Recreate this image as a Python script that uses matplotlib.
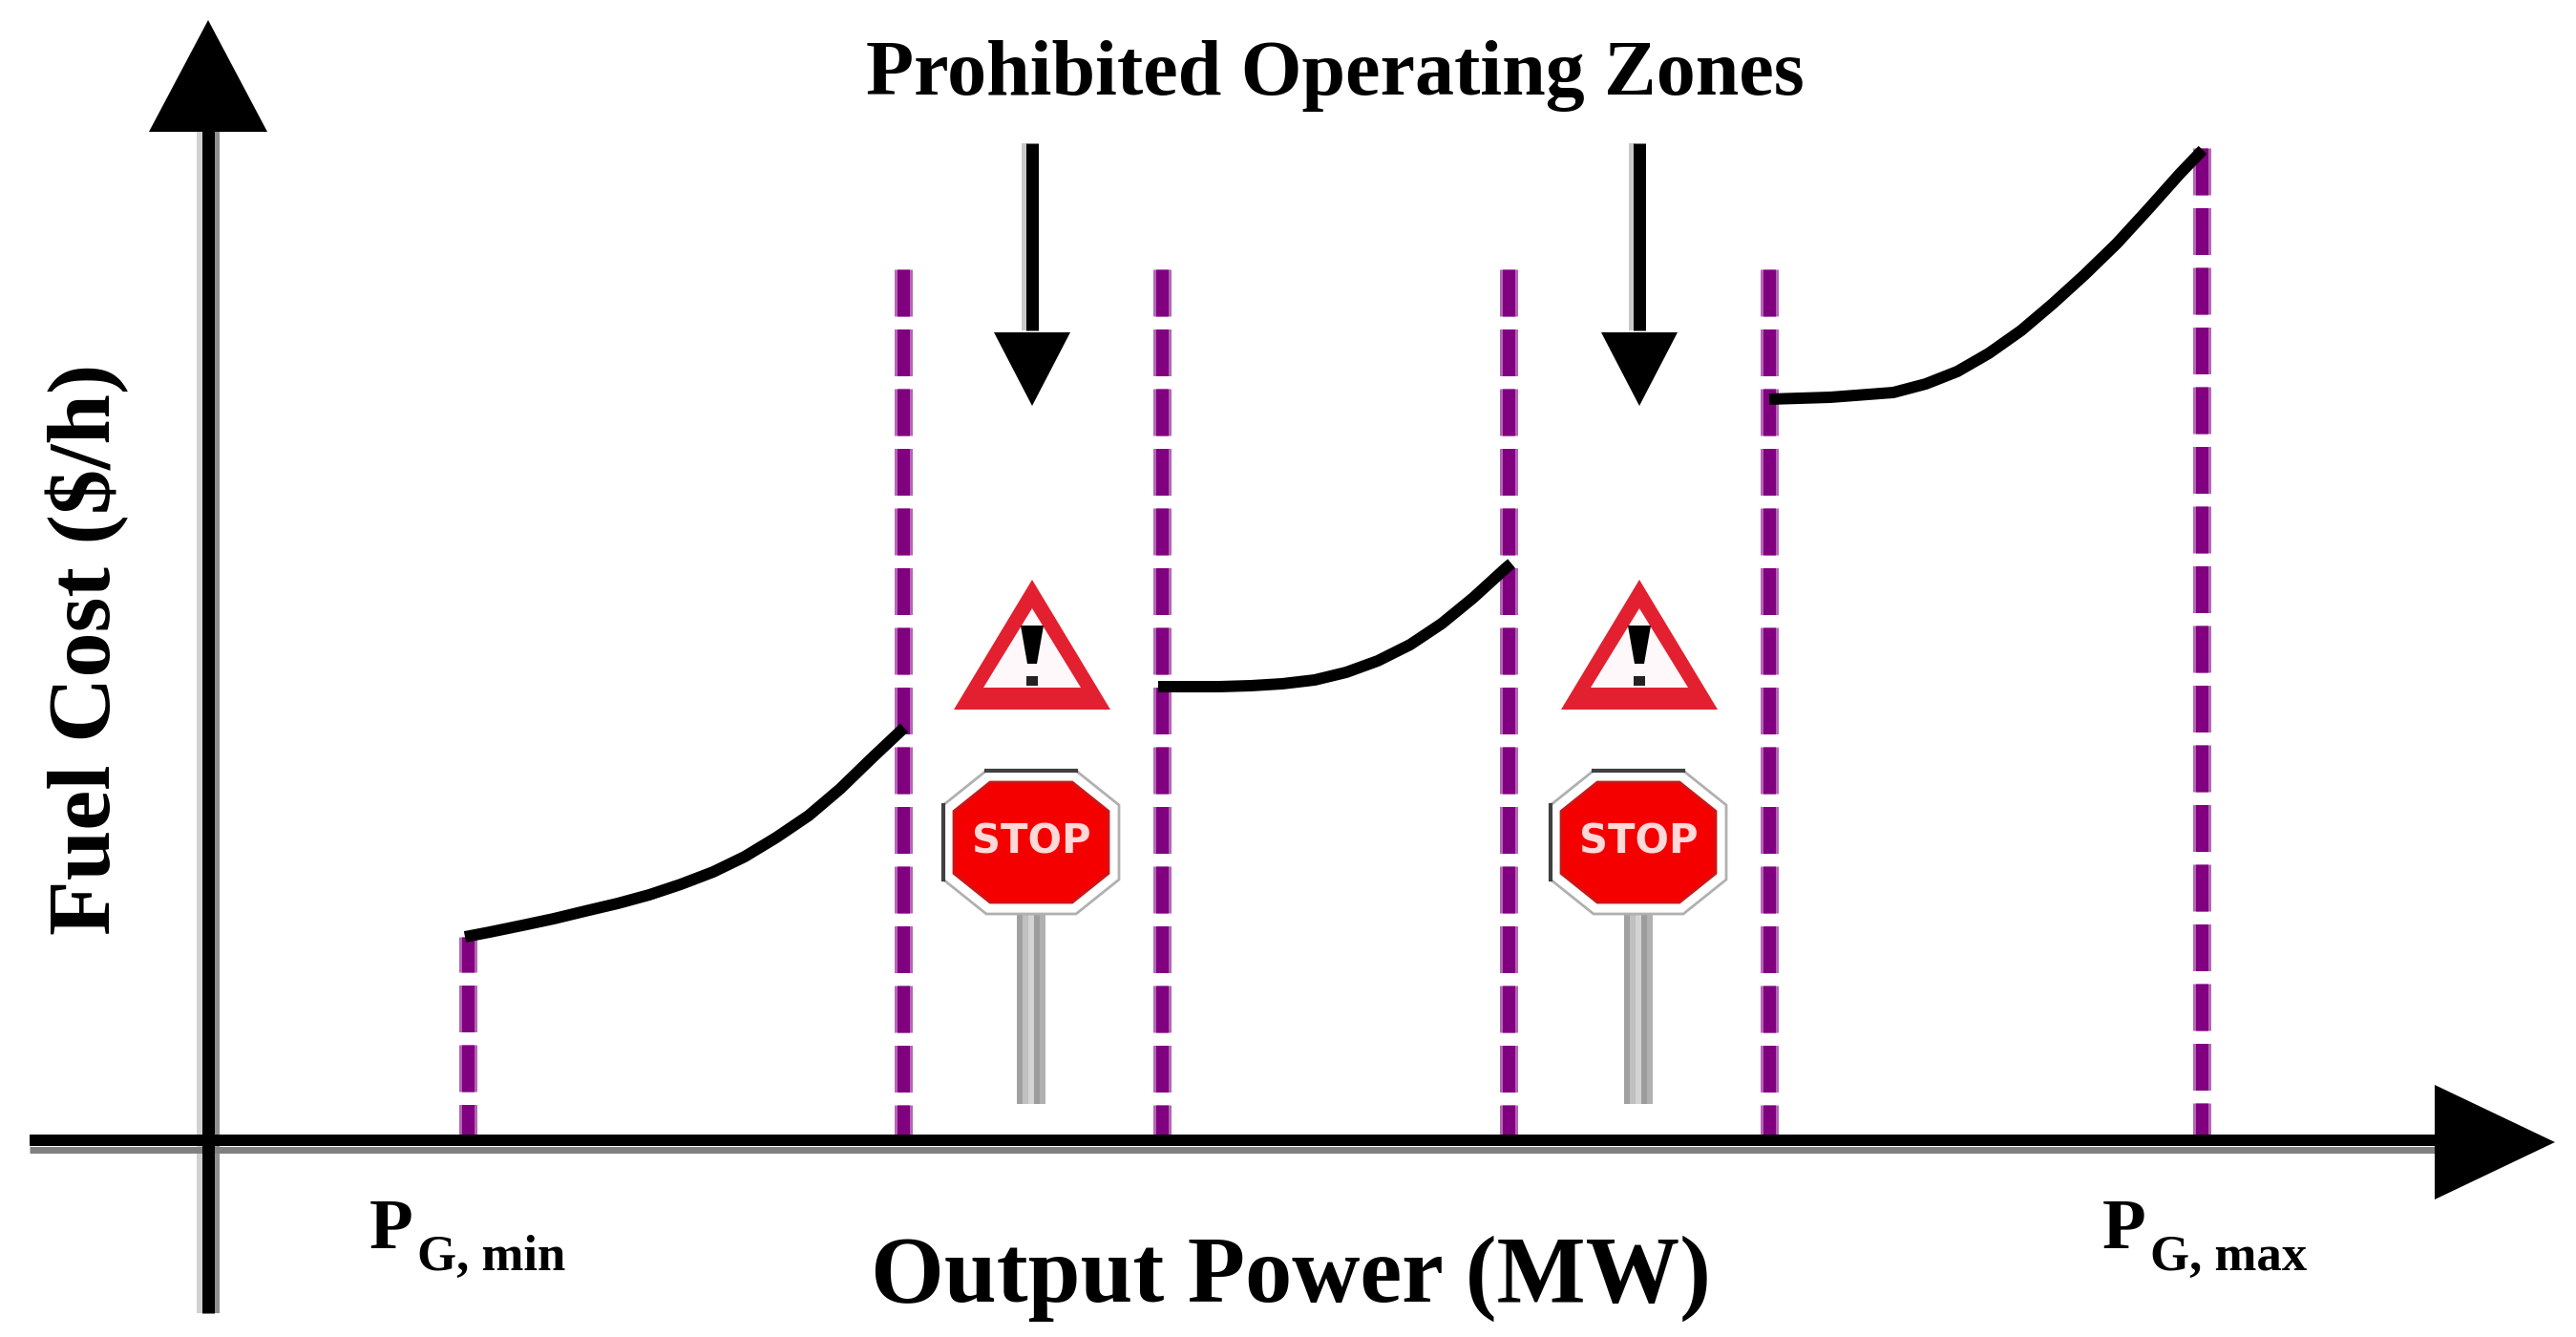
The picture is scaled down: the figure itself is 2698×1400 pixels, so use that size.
import matplotlib
matplotlib.use("Agg")
import matplotlib.pyplot as plt
from matplotlib.patches import Polygon, Rectangle

plt.rcParams["font.family"] = ["Liberation Serif", "DejaVu Serif"]
plt.rcParams["lines.scale_dashes"] = False

# output power / fuel cost, origin at the axes crossing
segment1_x = [269, 295, 329, 362, 395, 429, 462, 495, 529, 562, 595, 629, 662, 695, 729]
segment1_y = [215, 220, 227, 234, 242, 250, 259, 270, 283, 299, 319, 342, 370, 402, 434]
segment2_x = [995, 1059, 1092, 1125, 1159, 1192, 1225, 1259, 1292, 1325, 1359, 1365]
segment2_y = [477, 477, 478, 480, 484, 492, 504, 521, 543, 570, 601, 606]
segment3_x = [1635, 1699, 1765, 1799, 1832, 1865, 1899, 1932, 1965, 1999, 2032, 2065, 2089]
segment3_y = [778, 780, 785, 794, 807, 826, 850, 878, 908, 941, 977, 1014, 1039]

limit_x = [272, 728, 999, 1362, 1635, 2088]
limit_top = [215, 914, 914, 914, 914, 1041]
limit_phase = [12, 0, 0, 0, 0, 0]

zone_x = [863, 1499]
zone_labels = ["Prohibited Operating Zones", "Output Power (MW)", "Fuel Cost ($/h)"]

ORIGIN_X = 218
ORIGIN_Y = 1196
PURPLE = "#800080"
RED = "#e3202f"


def px_width(px):
    return px * 72 / 100


def draw_warning(ax, cx):
    ax.add_patch(Polygon([(cx, 589), (cx - 82, 453), (cx + 82, 453)], fc=RED, ec="none", zorder=3))
    ax.add_patch(Polygon([(cx, 559), (cx - 51, 476), (cx + 51, 476)], fc="#fff8fb", ec="none", zorder=4))
    ax.add_patch(Polygon([(cx - 12, 541), (cx + 12, 541), (cx + 5, 501), (cx - 5, 501)], fc="black", ec="none", zorder=5))
    ax.add_patch(Rectangle((cx - 6, 478), 12, 10, fc="#222222", ec="none", zorder=5))


def octagon(cx, cy, rx, ry, cut):
    return [
        (cx - rx + cut, cy + ry), (cx + rx - cut, cy + ry), (cx + rx, cy + ry - cut * 0.8),
        (cx + rx, cy - ry + cut * 0.8), (cx + rx - cut, cy - ry), (cx - rx + cut, cy - ry),
        (cx - rx, cy - ry + cut * 0.8), (cx - rx, cy + ry - cut * 0.8),
    ]


def draw_stop(ax, cx):
    cy = 314
    stripes = [(-12, 6, "#a0a0a0"), (-6, 6, "#c0c0c0"), (0, 6, "#d4d4d4"), (6, 6, "#9c9c9c"), (12, 6, "#b0b0b0")]
    for off, w, c in stripes:
        ax.add_patch(Rectangle((cx + off - 3, 40), w, 200, fc=c, ec="none", zorder=3))
    outer = octagon(cx, cy, 92, 75, 45)
    ax.add_patch(Polygon(outer, fc="white", ec="#b0b0b0", lw=2, zorder=4))
    ax.plot([outer[0][0], outer[1][0]], [outer[0][1]] * 2, color="#404040", lw=3, zorder=5)
    ax.plot([outer[6][0]] * 2, [outer[6][1], outer[7][1]], color="#404040", lw=3, zorder=5)
    ax.add_patch(Polygon(octagon(cx, cy, 81, 63, 38), fc="#f50000", ec="#c81818", lw=2, zorder=5))
    ax.text(cx, cy, "STOP", family="DejaVu Sans", fontweight="bold", fontsize=30,
            color="#ffd8d8", ha="center", va="center", zorder=6)


def main():
    fig = plt.figure(figsize=(26.98, 14), dpi=100)
    ax = fig.add_axes([0, 0, 1, 1])
    ax.set_xlim(-ORIGIN_X, 2698 - ORIGIN_X)
    ax.set_ylim(ORIGIN_Y - 1400, ORIGIN_Y)
    ax.axis("off")

    # prohibited zone limits, soft edge under a solid core
    dash_on = px_width(49)
    dash_off = px_width(13.5)
    for x, top, phase in zip(limit_x, limit_top, limit_phase):
        style = (px_width(phase), (dash_on, dash_off))
        ax.plot([x, x], [top, 0], color="#b565b5", lw=px_width(19), ls=style, dash_capstyle="butt", zorder=1)
        ax.plot([x, x], [top, 0], color=PURPLE, lw=px_width(13), ls=style, dash_capstyle="butt", zorder=1)

    # cost curve
    for xs, ys in [(segment1_x, segment1_y), (segment2_x, segment2_y), (segment3_x, segment3_y)]:
        ax.plot(xs, ys, color="black", lw=px_width(12), zorder=2, solid_capstyle="butt", solid_joinstyle="round")

    # axes with arrow heads
    ax.plot([-187, 2340], [2, 2], color="black", lw=px_width(12), solid_capstyle="butt", zorder=2)
    ax.plot([-187, 2340], [-8, -8], color="#808080", lw=px_width(7), solid_capstyle="butt", zorder=2)
    ax.plot([-9, -9], [-179, 1060], color="#d0d0d0", lw=px_width(6), solid_capstyle="butt", zorder=1)
    ax.plot([9, 9], [-179, 1060], color="#909090", lw=px_width(6), solid_capstyle="butt", zorder=1)
    ax.plot([0, 0], [-179, 1060], color="black", lw=px_width(13), solid_capstyle="butt", zorder=2)
    ax.add_patch(Polygon([(2332, 60), (2332, -60), (2458, 0)], fc="black", ec="none", zorder=3))
    ax.add_patch(Polygon([(-62, 1058), (62, 1058), (0, 1175)], fc="black", ec="none", zorder=3))

    # zone arrows and signs
    for x in zone_x:
        ax.plot([x - 8, x - 8], [1046, 850], color="#c8c8c8", lw=px_width(6), solid_capstyle="butt", zorder=1)
        ax.plot([x, x], [1046, 850], color="black", lw=px_width(13), solid_capstyle="butt", zorder=2)
        ax.add_patch(Polygon([(x - 40, 848), (x + 40, 848), (x, 771)], fc="black", ec="none", zorder=3))
        draw_warning(ax, x)
        draw_stop(ax, x - 1)

    ax.text(1180, 1097, zone_labels[0], fontsize=59, fontweight="bold", ha="center", va="baseline")
    ax.text(1134, -167, zone_labels[1], fontsize=71, fontweight="bold", ha="center", va="baseline")
    ax.text(-127, 516, zone_labels[2], fontsize=68, fontweight="bold", rotation=90, ha="center", va="center")

    # generator limits, P with a lowered subscript
    ax.text(169, -111, "P", fontsize=54, fontweight="bold", ha="left", va="baseline")
    ax.text(219, -134, "G, min", fontsize=38, fontweight="bold", ha="left", va="baseline")
    ax.text(1984, -111, "P", fontsize=54, fontweight="bold", ha="left", va="baseline")
    ax.text(2034, -134, "G, max", fontsize=38, fontweight="bold", ha="left", va="baseline")

    fig.savefig("out.png", dpi=100)


if __name__ == "__main__":
    main()
